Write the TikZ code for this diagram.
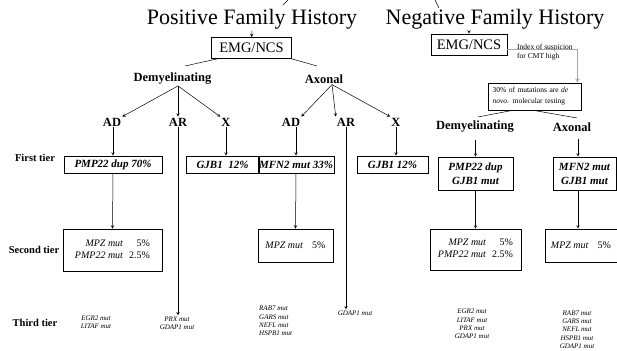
\documentclass[tikz,border=0pt]{standalone}
\usepackage{fontspec}
\setmainfont{Liberation Serif}
\begin{document}
\begin{tikzpicture}[x=1pt,y=-1pt]

% definitions
\tikzstyle{title} = [font=\fontsize{22}{24}\selectfont, inner sep=1pt, anchor=base]

\tikzstyle{emg} = [rectangle, minimum width=80pt, minimum height=21pt, draw=black, line width=0.8pt, font=\fontsize{14.5}{16}\selectfont]

\tikzstyle{branch} = [font=\bfseries\fontsize{12.5}{14}\selectfont, inner sep=1pt]

\tikzstyle{tier} = [font=\bfseries\fontsize{10.5}{12}\selectfont, inner sep=1pt]

\tikzstyle{first} = [rectangle, minimum height=17pt, text centered, draw=black, line width=0.8pt, inner sep=1pt, font=\bfseries\itshape\fontsize{11}{14}\selectfont, align=center]

\tikzstyle{second} = [rectangle, text centered, draw=black, line width=0.8pt, inner sep=1pt, font=\fontsize{10}{12}\selectfont]

\tikzstyle{third} = [font=\itshape\fontsize{7}{8.3}\selectfont, align=center, inner sep=1pt]

\tikzstyle{notebox} = [rectangle, minimum width=93pt, minimum height=27pt, draw=black, line width=0.7pt, text width=84pt, align=left, inner sep=3pt, font=\fontsize{7.5}{11}\selectfont]

\tikzstyle{arrow} = [->,>=stealth, line width=0.5pt]
\tikzstyle{link} = [line width=0.5pt]

\useasboundingbox (0,0) rectangle (617,350);

% titles
\node (posTitle) [title] at (252,25) {Positive Family History};
\node (negTitle) [title] at (495,25) {Negative Family History};

\coordinate (cutL) at (288,0);
\coordinate (cutLend) at (283,5);
\coordinate (cutR) at (435,0);
\coordinate (cutRend) at (439,8);
\draw [link] (cutL) -- (cutLend);
\draw [link] (cutR) -- (cutRend);

\node (emgL) [emg] at (251.5,48) {EMG/NCS};
\node (emgR) [emg, minimum width=76pt] at (469,44.5) {EMG/NCS};

\draw [arrow] (posTitle) -- (emgL);
\draw [arrow] (emgR.north |- negTitle.south) -- (emgR.north);

% tier labels
\node (tierOne) [tier] at (35,158) {First tier};
\node (tierTwo) [tier] at (34,250) {Second tier};
\node (tierThree) [tier] at (35,323) {Third tier};

% positive family history
\node (demL) [branch] at (172.5,79) {Demyelinating};
\node (axL) [branch] at (324,79) {Axonal};

\coordinate (demLtop) at (185,66);
\coordinate (axLtop) at (317,66);
\draw [link] ([xshift=6pt]emgL.south west) -- (demLtop);
\draw [link] (emgL.south east) -- (axLtop);

\node (adL1) [branch] at (112,122) {AD};
\node (arL1) [branch] at (178,122) {AR};
\node (xL1) [branch] at (226,122) {X};
\node (adL2) [branch] at (291,122) {AD};
\node (arL2) [branch] at (346,122) {AR};
\node (xL2) [branch] at (396,122) {X};

\draw [arrow] (demL.south -| arL1) -- (adL1.north east);
\draw [arrow] (demL.south -| arL1) -- (arL1.north);
\draw [arrow] (demL.south -| arL1) -- (xL1.north west);
\draw [arrow] ([xshift=8pt]axL.south) -- (adL2.north east);
\draw [arrow] ([xshift=8pt]axL.south) -- (arL2.north west);
\draw [arrow] ([xshift=8pt]axL.south) -- (xL2.north west);

\node (pmpL) [first, minimum width=98pt] at (113,164.5) {PMP22 dup 70\%};
\node (gjbL1) [first, minimum width=73pt] at (222.5,164.5) {GJB1\enspace 12\%};
\node (mfnL) [first, minimum width=74pt] at (296,164.5) {MFN2 mut 33\%};
\node (gjbL2) [first, minimum width=71pt] at (392.5,164.5) {GJB1 12\%};

\draw [arrow] (adL1.south -| pmpL) -- (pmpL.north);
\draw [arrow] (xL1.south) -- (xL1.south |- gjbL1.north);
\draw [arrow] (adL2.south -| mfnL) -- (mfnL.north);
\draw [arrow] (xL2.south) -- (xL2.south |- gjbL2.north);

\node (mpzL1) [second, minimum width=99pt, minimum height=42pt] at (112.5,250) {\begin{tabular}{@{}r@{\hspace{6pt}}r@{}}\textit{MPZ mut} & 5\%\\ \textit{PMP22 mut} & 2.5\%\end{tabular}};
\node (mpzL2) [second, minimum width=75pt, minimum height=33pt] at (295.5,245.5) {\textit{MPZ mut}\hspace{9pt}5\%};

\draw [arrow] (pmpL.south) -- (mpzL1.north);
\draw [arrow] (mfnL.south) -- (mpzL2.north);

\node (egrL) [third] at (96,322) {EGR2 mut\\LITAF mut};
\node (prxL) [third] at (177,323) {PRX mut\\GDAP1 mut};
\node (rabL) [third, align=left, anchor=west] at (258,321) {RAB7 mut\\GARS mut\\NEFL mut\\HSPB1 mut};
\node (gdapL) [third] at (355,313) {GDAP1 mut};

\draw [arrow] (arL1.south) -- (arL1.south |- prxL.north);
\draw [arrow] (arL2.south) -- (arL2.south |- gdapL.north);

% negative family history
\node (suspText) [font=\fontsize{7.5}{9}\selectfont, align=left, anchor=west, inner sep=1pt] at (516,52) {Index of suspicion\\for CMT high};
\node (noteBox) [notebox] at (534.5,96.5) {30\% of mutations are \textit{de}\\\textit{novo}. molecular testing};

\draw [->, >=stealth, gray!70, line width=1pt] ([yshift=-5pt]emgR.east) -| ([xshift=-4pt]noteBox.north east);

\node (demR) [branch] at (475,127) {Demyelinating};
\node (axR) [branch] at (572,127) {Axonal};

\coordinate (demRtop) at (478,117);
\coordinate (axRtop) at (577,118);
\draw [link] ([xshift=25pt]noteBox.south west) -- (demRtop);
\draw [link] ([xshift=-48pt]noteBox.south east) -- (axRtop);

\node (pmpR) [first, minimum width=75pt, minimum height=33pt] at (475.5,173.5) {PMP22 dup\\GJB1 mut};
\node (mfnR) [first, minimum width=63pt, minimum height=33pt] at (584.5,173.5) {MFN2 mut\\GJB1 mut};

\coordinate (axRdown) at ([xshift=6pt]axR.south);
\draw [arrow, shorten <=6pt] (demR.south -| pmpR) -- (pmpR.north);
\draw [arrow, shorten <=6pt] (axRdown) -- (axRdown |- mfnR.north);

\node (mpzR1) [second, minimum width=91pt, minimum height=41pt] at (475.5,249.5) {\begin{tabular}{@{}r@{\hspace{6pt}}r@{}}\textit{MPZ mut} & 5\%\\ \textit{PMP22 mut} & 2.5\%\end{tabular}};
\node (mpzR2) [second, minimum width=72pt, minimum height=33pt] at (581,245.5) {\textit{MPZ mut}\hspace{9pt}5\%};

\draw [arrow] (pmpR.south) -- (mpzR1.north);
\draw [arrow] (axRdown |- mfnR.south) -- (axRdown |- mpzR2.north);

\node (egrR) [third] at (472,324) {EGR2 mut\\LITAF mut\\PRX mut\\GDAP1 mut};
\node (rabR) [third] at (577,329.5) {RAB7 mut\\GARS mut\\NEFL mut\\HSPB1 mut\\GDAP1 mut};

\end{tikzpicture}
\end{document}
